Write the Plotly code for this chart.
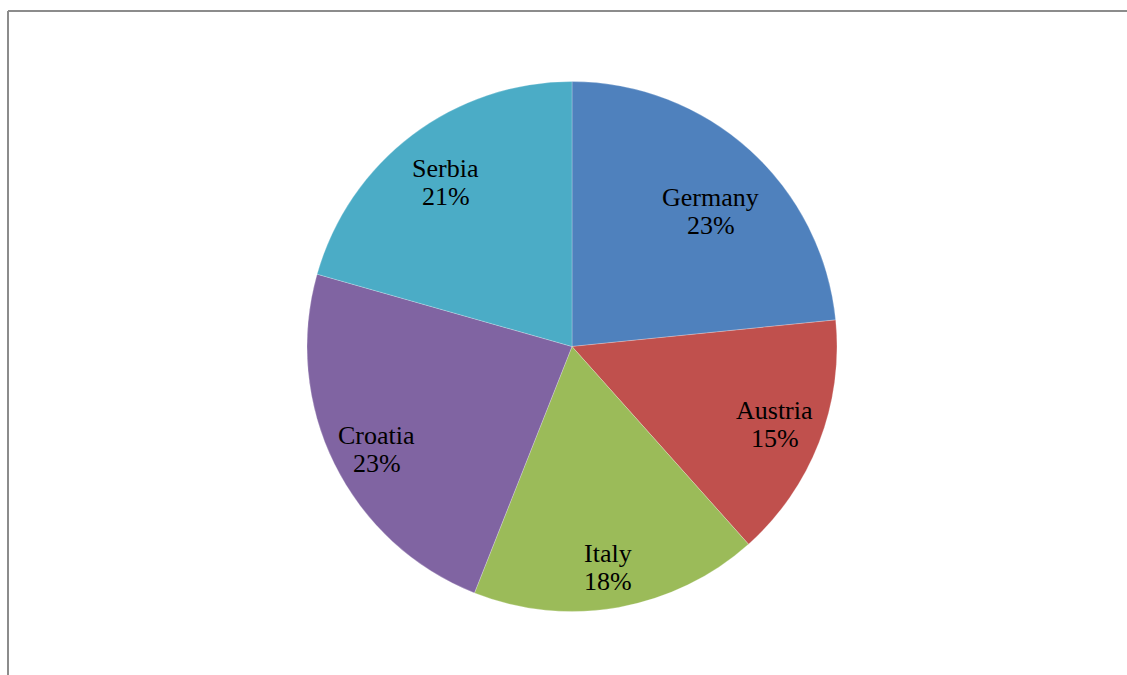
import math
import plotly.graph_objects as go

countries = ["Germany", "Austria", "Italy", "Croatia", "Serbia"]
shares = [23.4, 15.0, 17.6, 23.4, 20.6]
colors = ["#4F81BD", "#C0504D", "#9BBB59", "#8064A2", "#4BACC6"]

# label placement: fraction of radius along the slice bisector, plus a small angular nudge (deg)
label_radius = [0.73, 0.82, 0.845, 0.833, 0.78]
label_nudge = [3.8, -0.2, 0.8, -1.4, -0.5]

W, H = 1127, 675
CX, CY, R = 572, 346.5, 265  # pie centre and radius in pixels
FONT = "Liberation Serif"
FSIZE = 26
LINE_GAP = 14  # half the distance between the two label lines

fig = go.Figure(
    go.Pie(
        labels=countries,
        values=shares,
        sort=False,
        direction="clockwise",
        rotation=0,
        marker=dict(colors=colors, line=dict(color="rgba(255,255,255,0.4)", width=0.6)),
        textinfo="none",
        showlegend=False,
        hoverinfo="label+percent",
        domain=dict(x=[(CX - R) / W, (CX + R) / W], y=[(H - CY - R) / H, (H - CY + R) / H]),
    )
)

# data labels: name and rounded share, centred on each slice's bisector
total = sum(shares)
start = 0.0
for name, v, frac, nudge in zip(countries, shares, label_radius, label_nudge):
    mid = math.radians((start + v / 2) / total * 360 + nudge)
    start += v
    px = CX + frac * R * math.sin(mid)
    py = CY - frac * R * math.cos(mid)
    pct = f"{round(v / total * 100)}%"
    for txt, off in ((name, -LINE_GAP), (pct, LINE_GAP)):
        fig.add_annotation(
            x=px / W, y=1 - (py + off) / H, xref="paper", yref="paper",
            text=txt, showarrow=False, xanchor="center", yanchor="middle",
            font=dict(family=FONT, size=FSIZE, color="#000000"),
        )

# chart area frame (left and top edges)
fig.add_shape(type="line", xref="paper", yref="paper",
              x0=8 / W, x1=1, y0=1 - 11 / H, y1=1 - 11 / H,
              line=dict(color="#8c8c8c", width=2))
fig.add_shape(type="line", xref="paper", yref="paper",
              x0=8 / W, x1=8 / W, y0=0, y1=1 - 11 / H,
              line=dict(color="#8c8c8c", width=2))

fig.update_layout(
    width=W, height=H,
    margin=dict(l=0, r=0, t=0, b=0),
    paper_bgcolor="white",
    plot_bgcolor="white",
)

fig.write_html("out.html")
